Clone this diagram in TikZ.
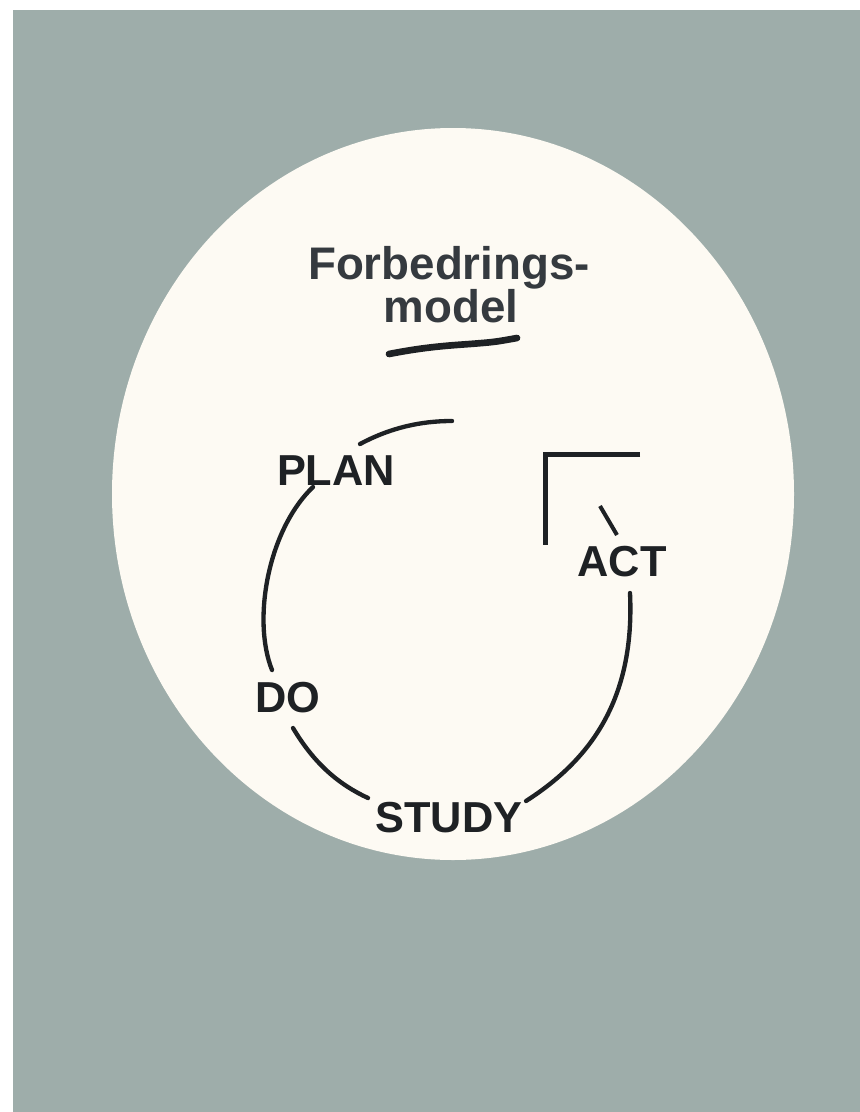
\documentclass[tikz,border=0pt]{standalone}
\usepackage{fontspec}
\setmainfont{Liberation Sans}

\definecolor{slate}{HTML}{9EADAA}
\definecolor{paper}{HTML}{FDFAF3}
\definecolor{ink}{HTML}{1E2124}
\definecolor{titlegray}{HTML}{353A3F}

\tikzset{
	stage/.style={inner sep=0pt, text=ink, font=\fontsize{37}{40}\selectfont\bfseries},
	titletext/.style={inner sep=0pt, anchor=base, text=titlegray, font=\fontsize{39}{40}\selectfont\bfseries},
	arcline/.style={ink, line width=1.3mm, line cap=round},
}

\begin{document}
\begin{tikzpicture}[x=0.3mm, y=-0.3mm]
		\useasboundingbox (0, 0) rectangle (860, 1112);
		\fill[slate] (13, 10) rectangle (860, 1112);
		\fill[paper] (453, 494) ellipse [x radius=341, y radius=366];

		\node[titletext] (forb) at (449, 279) {Forbedrings-};
		\node[titletext] (model) at (451, 322) {model};
		\draw[ink, line width=2mm, line cap=round] (389, 354) .. controls (420, 348) and (440, 346) .. (470, 344) .. controls (495, 342) .. (517, 338);

		\node[stage] (plan) at (336, 471) {PLAN};
		\node[stage] (act) at (622, 562) {ACT};
		\node[stage] (do) at (288, 698) {DO};
		\node[stage] (study) at (449, 818) {STUDY};

		\coordinate (plan-out) at (360, 444);
		\coordinate (top-end) at (452, 421);
		\coordinate (plan-in) at (313, 487);
		\coordinate (do-in) at (272, 670);
		\coordinate (do-out) at (293, 728);
		\coordinate (study-in) at (368, 798);
		\coordinate (study-out) at (526, 801);
		\coordinate (act-in) at (630, 593);

		\draw[arcline] (plan-out) .. controls (390, 428) and (420, 421) .. (top-end);
		\draw[arcline] (plan-in) .. controls (268, 530) and (252, 620) .. (do-in);
		\draw[arcline] (do-out) .. controls (315, 765) and (340, 785) .. (study-in);
		\draw[arcline] (study-out) .. controls (590, 760) and (635, 700) .. (act-in);

		\draw[ink, line width=1.2mm] (600, 506) -- (617, 535);
		\draw[ink, line width=1.5mm] (640, 454) -- (545, 454) -- (545, 545);
\end{tikzpicture}
\end{document}
